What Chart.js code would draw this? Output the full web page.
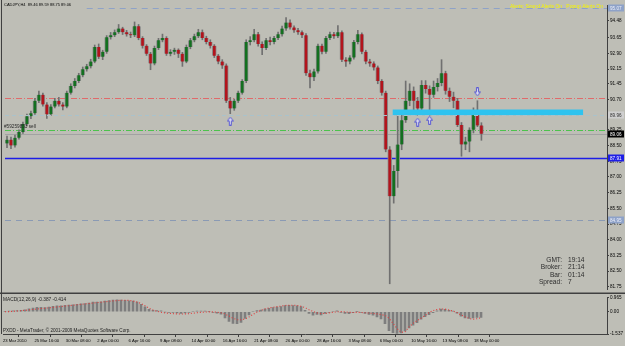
<!DOCTYPE html>
<html><head><meta charset="utf-8">
<script src="https://cdn.jsdelivr.net/npm/chart.js@4.4.1/dist/chart.umd.min.js"></script>
<style>
html,body{margin:0;padding:0;background:#bebeb6;}
#wrap{position:relative;width:625px;height:346px;overflow:hidden;background:#bebeb6;}
canvas{position:absolute;left:0;}
#c1{top:0;width:625px;height:294px;}
#c2{top:294px;width:625px;height:52px;}
</style></head><body>
<div id="wrap"><canvas id="c1" width="625" height="294"></canvas><canvas id="c2" width="625" height="52"></canvas></div>
<script>
// ---------- DATA ----------
const opens = [88.60,88.78,88.50,88.87,89.15,89.53,89.90,90.04,90.64,90.92,
90.46,89.99,90.36,90.64,90.46,90.36,91.02,91.34,91.58,91.86,
92.14,92.28,92.51,93.21,92.74,92.98,93.67,93.77,93.91,94.09,
93.91,93.81,93.77,94.19,93.63,93.26,92.88,92.42,93.16,93.53,
93.63,92.88,92.98,93.07,92.88,92.51,93.21,93.53,93.72,93.91,
93.63,93.44,93.26,92.79,92.51,92.32,90.64,90.27,90.64,91.02,
91.58,93.44,93.53,93.81,93.35,93.16,93.53,93.44,93.63,93.81,
94.09,94.37,94.14,94.00,93.91,93.77,91.95,91.76,92.04,93.26,
92.98,93.63,93.81,93.72,93.91,92.60,92.51,92.70,93.44,93.81,
92.98,92.51,92.42,92.23,91.58,91.02,88.31,86.08,87.29,88.55,
89.71,90.64,91.11,90.64,90.27,91.39,91.20,90.92,91.30,91.48,
91.95,91.11,90.83,90.64,89.48,88.55,88.69,89.25,90.18,89.46];
const highs = [88.95,88.90,89.00,89.25,89.62,90.00,90.15,90.75,91.10,91.00,
90.55,90.45,90.75,90.80,90.55,91.10,91.45,91.70,91.95,92.25,
92.38,92.62,93.30,93.35,93.05,93.75,93.90,94.02,94.28,94.15,
94.00,93.92,94.40,94.28,93.70,93.32,92.95,93.25,93.62,93.82,
93.70,93.08,93.15,93.12,92.95,93.30,93.62,93.82,94.05,94.02,
93.72,93.55,93.32,92.85,92.60,92.40,90.80,90.72,91.10,91.65,
93.55,93.70,94.05,93.90,93.45,93.62,93.68,93.72,93.92,94.20,
94.61,94.50,94.22,94.10,93.98,93.85,92.10,92.15,93.35,93.35,
93.72,93.92,93.90,94.23,93.98,92.70,92.80,93.52,94.00,93.88,
93.05,92.62,92.50,92.30,91.65,91.10,88.45,87.55,90.00,90.00,
91.58,91.45,91.30,90.80,91.60,91.60,91.35,91.58,91.70,92.60,
92.05,91.25,91.05,90.75,89.60,88.90,89.35,90.30,90.64,89.59];
const lows = [88.40,88.35,88.42,88.80,89.08,89.45,89.78,89.98,90.55,90.38,
89.80,89.92,90.30,90.38,90.20,90.30,90.95,91.25,91.50,91.78,
92.05,92.20,92.45,92.65,92.60,92.90,93.58,93.70,93.85,93.80,
93.72,93.65,93.70,93.55,93.15,92.80,92.12,92.35,93.08,93.45,
92.80,92.78,92.85,92.70,92.28,92.45,93.12,93.45,93.65,93.55,
93.35,93.15,92.70,92.40,92.18,90.55,90.02,90.18,90.55,90.95,
91.50,93.30,93.45,93.25,92.84,93.08,93.30,93.35,93.55,93.72,
94.00,94.05,93.90,93.80,93.65,91.85,91.25,91.60,91.95,92.88,
92.90,93.55,93.62,93.65,92.50,92.28,92.40,92.62,93.35,92.88,
92.40,92.28,92.10,91.45,90.90,88.20,81.90,85.75,86.50,88.30,
89.60,90.40,90.20,89.95,90.15,91.00,89.95,90.80,91.10,91.35,
90.95,90.60,90.30,89.40,87.99,88.30,88.20,89.10,89.40,88.75];
const closes = [88.78,88.50,88.87,89.15,89.53,89.90,90.04,90.64,90.92,90.46,
89.99,90.36,90.64,90.46,90.36,91.02,91.34,91.58,91.86,92.14,
92.28,92.51,93.21,92.74,92.98,93.67,93.77,93.91,94.09,93.91,
93.81,93.77,94.19,93.63,93.26,92.88,92.42,93.16,93.53,93.63,
92.88,92.98,93.07,92.88,92.51,93.21,93.53,93.72,93.91,93.63,
93.44,93.26,92.79,92.51,92.32,90.64,90.27,90.64,91.02,91.58,
93.44,93.53,93.81,93.35,93.16,93.53,93.44,93.63,93.81,94.09,
94.37,94.14,94.00,93.91,93.77,91.95,91.76,92.04,93.26,92.98,
93.63,93.81,93.72,93.91,92.60,92.51,92.70,93.44,93.81,92.98,
92.51,92.42,92.23,91.58,91.02,88.31,86.08,87.29,88.55,89.71,
90.64,91.11,90.64,90.27,91.39,91.20,90.92,91.30,91.48,91.95,
91.11,90.83,90.64,89.48,88.55,88.69,89.25,90.18,89.46,89.06];
const macdMain = [0.02,0.04,0.06,0.08,0.10,0.14,0.20,0.26,0.30,0.30,
0.28,0.33,0.38,0.40,0.40,0.44,0.46,0.48,0.52,0.55,
0.57,0.60,0.66,0.66,0.69,0.74,0.77,0.80,0.82,0.81,
0.79,0.75,0.74,0.66,0.52,0.34,0.16,0.10,0.08,0.06,
-0.02,-0.04,-0.05,-0.08,-0.12,-0.08,-0.04,0.00,0.04,0.05,
0.04,0.02,-0.04,-0.10,-0.16,-0.42,-0.66,-0.80,-0.82,-0.74,
-0.46,-0.22,0.00,0.08,0.12,0.18,0.24,0.28,0.32,0.36,
0.42,0.44,0.42,0.40,0.36,0.10,-0.12,-0.24,-0.18,-0.22,
-0.12,-0.04,0.00,0.06,-0.04,-0.12,-0.14,-0.06,0.02,-0.04,
-0.12,-0.18,-0.24,-0.36,-0.50,-0.82,-1.30,-1.45,-1.50,-1.46,
-1.32,-1.12,-0.92,-0.76,-0.52,-0.34,-0.20,-0.06,0.06,0.18,
0.16,0.10,0.04,-0.10,-0.30,-0.42,-0.46,-0.42,-0.40,-0.39];
const macdSignal = [0.00,0.01,0.03,0.05,0.07,0.10,0.13,0.16,0.19,0.22,
0.24,0.27,0.30,0.33,0.36,0.39,0.42,0.45,0.48,0.51,
0.54,0.57,0.60,0.63,0.66,0.69,0.72,0.75,0.77,0.79,
0.79,0.78,0.74,0.67,0.57,0.42,0.25,0.12,0.03,-0.04,
-0.08,-0.11,-0.13,-0.15,-0.16,-0.15,-0.13,-0.10,-0.07,-0.04,
-0.02,-0.01,-0.01,-0.03,-0.07,-0.15,-0.30,-0.45,-0.55,-0.56,
-0.50,-0.36,-0.18,-0.02,0.10,0.20,0.27,0.31,0.35,0.39,
0.43,0.45,0.45,0.43,0.38,0.28,0.14,0.02,-0.08,-0.13,
-0.12,-0.08,-0.04,0.00,0.01,-0.01,-0.04,-0.05,-0.04,-0.05,
-0.07,-0.09,-0.12,-0.15,-0.20,-0.25,-0.45,-0.80,-1.15,-1.42,
-1.40,-1.05,-0.80,-0.62,-0.45,-0.28,-0.05,0.08,0.16,0.20,
0.18,0.12,0.04,-0.06,-0.22,-0.34,-0.46,-0.52,-0.48,-0.41];
const timeLabels = ["23 Mar 2010","25 Mar 16:00","30 Mar 08:00","2 Apr 00:00","6 Apr 16:00","9 Apr 08:00","14 Apr 00:00","16 Apr 16:00","21 Apr 08:00","26 Apr 00:00","28 Apr 16:00","3 May 08:00","6 May 00:00","10 May 16:00","13 May 08:00","18 May 00:00"];
const priceTickLabels = ["94.48","93.65","92.90","92.15","91.45","90.70","89.25","88.50","87.75","87.00","86.25","85.50","84.75","84.00","83.25","82.50","81.75"];
const macdTickLabels = ["0.965","0.00","-1.537"];
const levelValues = [95.07, 90.75, 89.96, 89.25, 89.06, 87.91, 84.95];
const levelBoxLabels = ["95.07", null, "89.96", null, "89.06", "87.91", "84.95"];
const zoneFrom = [96.75, 90.22];
const zoneTo = [144.5, 89.95];
const arrowUpIdx = [56, 103, 106];
const arrowUpPrice = [89.67, 89.62, 89.71];
const arrowDownIdx = [118];
const arrowDownPrice = [91.06];
const orderLabel = "#59259853 sell";
const headerText = "CADJPY,H4  89.46 89.59 88.75 89.06";
const alertText = "Alerts: Sound Alerts On   Popup Alerts On";
const infoLabels = ["GMT:", "Broker:", "Bar:", "Spread:"];
const infoValues = ["19:14", "21:14", "01:14", "7"];
const macdTitle = "MACD(12,26,9) -0.387 -0.414";
const copyright = "PXDD - MetaTrader, \u00a9 2001-2009 MetaQuotes Software Corp.";

// ---------- STYLE ----------
const FONT = "Liberation Sans";
const levelStyle = [
  {c:'#8ea2c8', d:[6,5], w:1, from:20, box:'#8ea2c8', fg:'#eef0fa', front:false},
  {c:'#e06a6a', d:[6,2,1,2], w:1, from:null, front:false},
  {c:'#a9c2cb', d:[4,3], w:1, from:null, box:'#cfcfcf', fg:'#303030', front:true},
  {c:'#4cc24c', d:[6,2,1,2], w:1, from:null, front:false},
  {c:'#a2a2a2', d:[], w:1, from:null, box:'#000000', fg:'#ffffff', front:false},
  {c:'#1e1ee6', d:[], w:1.6, from:null, box:'#1e1ee6', fg:'#ffffff', front:false},
  {c:'#8a9ab4', d:[6,5], w:1, from:null, box:'#8ea2c8', fg:'#eef0fa', front:false}
];

function arrowImg(up){
  const c=document.createElement('canvas'); c.width=7; c.height=9;
  const g=c.getContext('2d');
  g.save();
  if(!up){ g.translate(0,9); g.scale(1,-1); }
  g.beginPath();
  g.moveTo(3.5,0.5); g.lineTo(6.5,4.5); g.lineTo(4.5,4.5); g.lineTo(4.5,8.5);
  g.lineTo(2.5,8.5); g.lineTo(2.5,4.5); g.lineTo(0.5,4.5); g.closePath();
  g.fillStyle='#dcdcf0'; g.fill();
  g.strokeStyle='#5a5ad2'; g.lineWidth=1; g.stroke();
  g.restore();
  return c;
}

const wickData = lows.map((l,i)=>({x:i, y:[l, highs[i]]}));
const bodyData = opens.map((o,i)=>({x:i, y:[o, closes[i]]}));
const bodyColors = opens.map((o,i)=> closes[i] >= o ? '#13701f' : '#b3141c');

function drawLevels(chart, front){
  const ctx=chart.ctx, ya=chart.scales.y, xa=chart.scales.x, a=chart.chartArea;
  ctx.save();
  levelValues.forEach((v,k)=>{
    const s=levelStyle[k]; if(!!s.front!==front) return;
    const y=Math.round(ya.getPixelForValue(v))+0.5;
    const x0 = s.from===null ? a.left : xa.getPixelForValue(s.from);
    ctx.beginPath(); ctx.setLineDash(s.d); ctx.strokeStyle=s.c; ctx.lineWidth=s.w;
    ctx.moveTo(x0,y); ctx.lineTo(a.right,y); ctx.stroke();
  });
  ctx.restore();
}

const mainPlugin = {
  id:'mainDeco',
  beforeDatasetsDraw(chart){ drawLevels(chart,false); },
  afterDatasetsDraw(chart){
    const ctx=chart.ctx, ya=chart.scales.y, xa=chart.scales.x;
    const x0=xa.getPixelForValue(zoneFrom[0]), x1=xa.getPixelForValue(zoneTo[0]);
    const y0=ya.getPixelForValue(zoneFrom[1]), y1=ya.getPixelForValue(zoneTo[1]);
    ctx.save(); ctx.fillStyle='#2fc3ef'; ctx.fillRect(x0,y0,x1-x0,y1-y0); ctx.restore();
    drawLevels(chart,true);
  },
  afterDraw(chart){
    const ctx=chart.ctx, ya=chart.scales.y, a=chart.chartArea;
    ctx.save();
    ctx.strokeStyle='#404040'; ctx.lineWidth=1; ctx.setLineDash([]);
    ctx.beginPath(); ctx.moveTo(1.5,0); ctx.lineTo(1.5,294); ctx.stroke();
    ctx.lineWidth=2; ctx.beginPath(); ctx.moveTo(0,293.5); ctx.lineTo(625,293.5); ctx.stroke();
    ctx.textBaseline='middle'; ctx.textAlign='left';
    ctx.font='4.6px "'+FONT+'"';
    levelValues.forEach((v,k)=>{
      const s=levelStyle[k]; if(!levelBoxLabels[k]) return;
      const y=Math.round(ya.getPixelForValue(v));
      ctx.fillStyle=s.box; ctx.fillRect(a.right+1, y-3.5, 16, 7);
      ctx.fillStyle=s.fg; ctx.fillText(levelBoxLabels[k], a.right+3, y+0.5);
    });
    ctx.fillStyle='#000000'; ctx.font='4px "'+FONT+'"';
    ctx.fillText(headerText, 4, 5);
    ctx.fillStyle='#f4f400'; ctx.font='5px "'+FONT+'"'; ctx.textAlign='right';
    ctx.fillText(alertText, 603, 7);
    ctx.textAlign='left'; ctx.fillStyle='#2a2a2a'; ctx.font='4.7px "'+FONT+'"';
    ctx.fillText(orderLabel, 4, ya.getPixelForValue(levelValues[3])-3);
    ctx.font='6.6px "'+FONT+'"'; ctx.fillStyle='#2e2e2e';
    infoLabels.forEach((t,k)=>{
      const y=260+k*7.4;
      ctx.textAlign='right'; ctx.fillText(t, 562, y);
      ctx.textAlign='left'; ctx.fillText(infoValues[k], 568, y);
    });
    ctx.restore();
  }
};

new Chart(document.getElementById('c1'), {
  type:'bar',
  data:{datasets:[
    {type:'bar', data:wickData, backgroundColor:'#707070', barThickness:1, grouped:false, order:3},
    {type:'bar', data:bodyData, backgroundColor:bodyColors, borderColor:'#8a8a8a', borderWidth:{left:1,right:1,top:0,bottom:0}, borderSkipped:false, barThickness:4, grouped:false, minBarLength:1, order:2},
    {type:'scatter', data:arrowUpIdx.map((x,k)=>({x, y:arrowUpPrice[k]})), pointStyle:arrowImg(true), pointRadius:4, order:1},
    {type:'scatter', data:arrowDownIdx.map((x,k)=>({x, y:arrowDownPrice[k]})), pointStyle:arrowImg(false), pointRadius:4, order:1}
  ]},
  options:{
    responsive:false, animation:false, devicePixelRatio:1,
    layout:{padding:{left:3, top:2, right:0, bottom:1}},
    plugins:{legend:{display:false}, tooltip:{enabled:false}},
    scales:{
      x:{type:'linear', display:false, min:-0.5, max:150.5, offset:false},
      y:{position:'right', min:81.65, max:95.21,
         afterBuildTicks(s){ s.ticks = priceTickLabels.map(t=>({value:parseFloat(t)})); },
         afterFit(s){ s.width = 18; },
         ticks:{autoSkip:false, padding:1, color:'#000', font:{family:FONT, size:4.6},
                callback(v,i){ return priceTickLabels[i]; }},
         grid:{display:true, drawOnChartArea:false, drawTicks:true, tickLength:2, color:'#404040'},
         border:{display:true, color:'#404040', width:1}}
    }
  },
  plugins:[mainPlugin]
});

const macdPlugin = {
  id:'macdDeco',
  afterDraw(chart){
    const ctx=chart.ctx, a=chart.chartArea;
    ctx.save();
    ctx.strokeStyle='#404040'; ctx.lineWidth=1;
    ctx.beginPath(); ctx.moveTo(1.5,0); ctx.lineTo(1.5,a.bottom); ctx.stroke();
    ctx.fillStyle='#1e1e1e'; ctx.textBaseline='middle'; ctx.textAlign='left';
    ctx.font='4.8px "'+FONT+'"';
    ctx.fillText(macdTitle, 3, 6);
    ctx.font='4.6px "'+FONT+'"';
    ctx.fillText(copyright, 3, a.bottom-3);
    ctx.restore();
  }
};

new Chart(document.getElementById('c2'), {
  type:'bar',
  data:{datasets:[
    {type:'bar', data:macdMain.map((v,i)=>({x:i, y:v})), backgroundColor:'#7e7e7e', barThickness:2, grouped:false, order:2},
    {type:'line', data:macdSignal.map((v,i)=>({x:i, y:v})), borderColor:'#e03c3c', borderWidth:1.1, borderDash:[1,2], pointRadius:0, tension:0, fill:false, order:1}
  ]},
  options:{
    responsive:false, animation:false, devicePixelRatio:1,
    layout:{padding:{left:3, top:1, right:0, bottom:0}},
    plugins:{legend:{display:false}, tooltip:{enabled:false}},
    scales:{
      x:{type:'linear', min:-0.5, max:150.5, offset:false,
         afterBuildTicks(s){ s.ticks = timeLabels.map((t,k)=>({value:-0.5 + k*7.85})); },
         afterFit(s){ s.height = 12; },
         ticks:{autoSkip:false, maxRotation:0, minRotation:0, align:'start', padding:1, color:'#000',
                font:{family:FONT, size:4.2}, callback(v,i){ return timeLabels[i]; }},
         grid:{display:true, drawOnChartArea:false, drawTicks:true, tickLength:3, color:'#404040'},
         border:{display:true, color:'#404040', width:1}},
      y:{position:'right', min:-1.537, max:0.965,
         afterBuildTicks(s){ s.ticks = macdTickLabels.map(t=>({value:parseFloat(t)})); },
         afterFit(s){ s.width = 18; },
         ticks:{autoSkip:false, padding:1, color:'#000', font:{family:FONT, size:4.6},
                callback(v,i){ return macdTickLabels[i]; }},
         grid:{display:true, drawOnChartArea:false, drawTicks:true, tickLength:2, color:'#404040'},
         border:{display:true, color:'#404040', width:1}}
    }
  },
  plugins:[macdPlugin]
});
</script>
</body></html>
